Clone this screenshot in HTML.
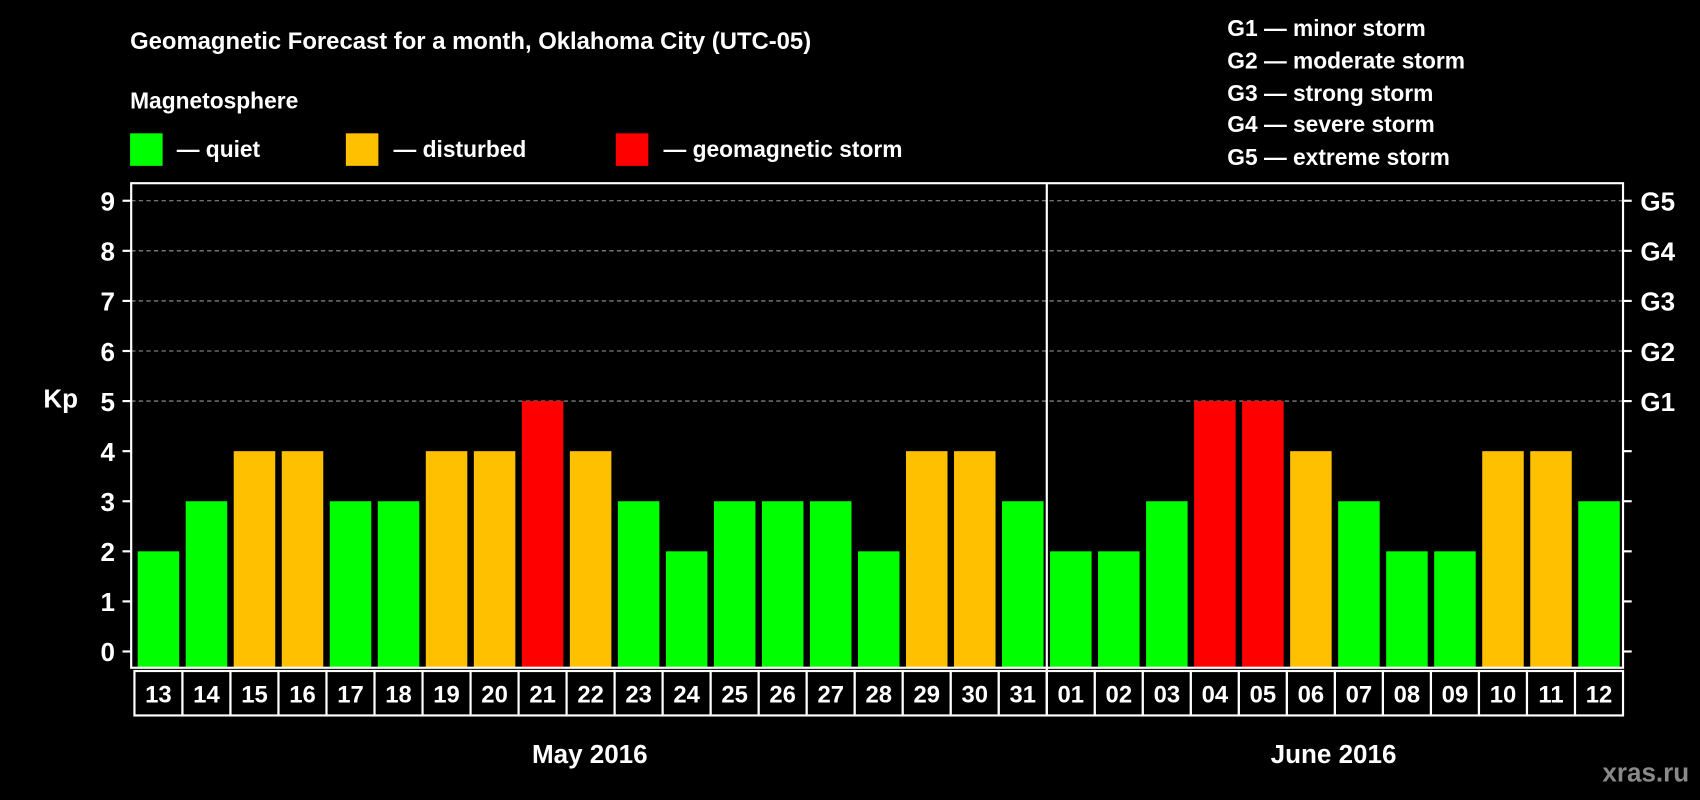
<!DOCTYPE html>
<html><head><meta charset="utf-8"><style>
html,body{margin:0;padding:0;background:#000;width:1700px;height:800px;overflow:hidden}
svg{display:block}
text{font-family:"Liberation Sans",Arial,sans-serif;font-weight:bold;fill:#fff}
</style></head><body>
<svg id="chart" width="1700" height="800" viewBox="0 0 1568 738" preserveAspectRatio="none" xmlns="http://www.w3.org/2000/svg">
<rect x="0" y="0" width="1568" height="738" fill="#000"/>
<text x="120" y="45" font-size="22">Geomagnetic Forecast for a month, Oklahoma City (UTC-05)</text>
<text x="120" y="100" font-size="21">Magnetosphere</text>
<g><rect x="120" y="123" width="30" height="30" fill="#00ff00"/><text x="163" y="145" font-size="21">— quiet</text></g>
<g><rect x="319" y="123" width="30" height="30" fill="#ffc000"/><text x="363" y="145" font-size="21">— disturbed</text></g>
<g><rect x="568" y="123" width="30" height="30" fill="#ff0000"/><text x="612" y="145" font-size="21">— geomagnetic storm</text></g>
<g font-size="21">
<text x="1132" y="33">G1 — minor storm</text>
<text x="1132" y="63">G2 — moderate storm</text>
<text x="1132" y="93">G3 — strong storm</text>
<text x="1132" y="122">G4 — severe storm</text>
<text x="1132" y="152">G5 — extreme storm</text>
</g>
<text x="40" y="376" font-size="24">Kp</text>
<g id="plot"></g>
<text x="544" y="704" font-size="24" text-anchor="middle">May 2016</text>
<text x="1230" y="704" font-size="24" text-anchor="middle">June 2016</text>
<text x="1558" y="721" font-size="24" text-anchor="end" style="fill:#8a8a8a">xras.ru</text>
</svg>
<script>
const days = ["13","14","15","16","17","18","19","20","21","22","23","24","25","26","27","28","29","30","31","01","02","03","04","05","06","07","08","09","10","11","12"];
const kpValues = [2,3,4,4,3,3,4,4,5,4,3,2,3,3,3,2,4,4,3,2,2,3,5,5,4,3,2,2,4,4,3];
const yTicks = [0,1,2,3,4,5,6,7,8,9];
const gLabels = ["G1","G2","G3","G4","G5"];
const gLevels = [5,6,7,8,9];

const NS="http://www.w3.org/2000/svg";
const g=document.getElementById('plot');
const L=121,R=1497,T=169,B=616,colL=124;
const colW=(R-colL)/days.length;
function y(v){return 601-v*46.2;}
function x(i){return colL+i*colW;}
function mk(t,a,p){const e=document.createElementNS(NS,t);for(const k in a)e.setAttribute(k,a[k]);(p||g).appendChild(e);return e;}
function color(v){return v>=5?"#ff0000":v>=4?"#ffc000":"#00ff00";}

gLevels.forEach(v=>{
  const ln=mk('line',{x1:L,x2:R,y1:y(v),y2:y(v),stroke:"#999","stroke-width":1,"stroke-dasharray":"4,3"});
  
  
});
kpValues.forEach((v,i)=>{
  const r=mk('rect',{x:x(i)+3,y:y(v),width:colW-6,height:B-y(v),fill:color(v)});
  
  
  const c=mk('rect',{x:x(i),y:619,width:colW,height:41,fill:"#000",stroke:"#fff","stroke-width":2});
  
  
  const t=mk('text',{x:x(i)+colW/2,y:648,"font-size":22,"text-anchor":"middle"});
  t.textContent=days[i];
  
  
});
const frame=mk('rect',{x:L,y:T,width:R-L,height:B-T,fill:"none",stroke:"#fff","stroke-width":2});


const div=mk('line',{x1:x(19),x2:x(19),y1:T,y2:660,stroke:"#fff","stroke-width":2});


yTicks.forEach(v=>{
  const tk=mk('line',{x1:L-8,x2:L,y1:y(v),y2:y(v),stroke:"#fff","stroke-width":2});
  
  
  const tr=mk('line',{x1:R,x2:R+8,y1:y(v),y2:y(v),stroke:"#fff","stroke-width":2});
  
  
  const t=mk('text',{x:106,y:y(v)+9,"font-size":24,"text-anchor":"end"});
  t.textContent=v;
  
  
});
gLabels.forEach((s,i)=>{
  const t=mk('text',{x:1513,y:y(gLevels[i])+9,"font-size":24});
  t.textContent=s;
  
  
});
</script>
</body></html>
